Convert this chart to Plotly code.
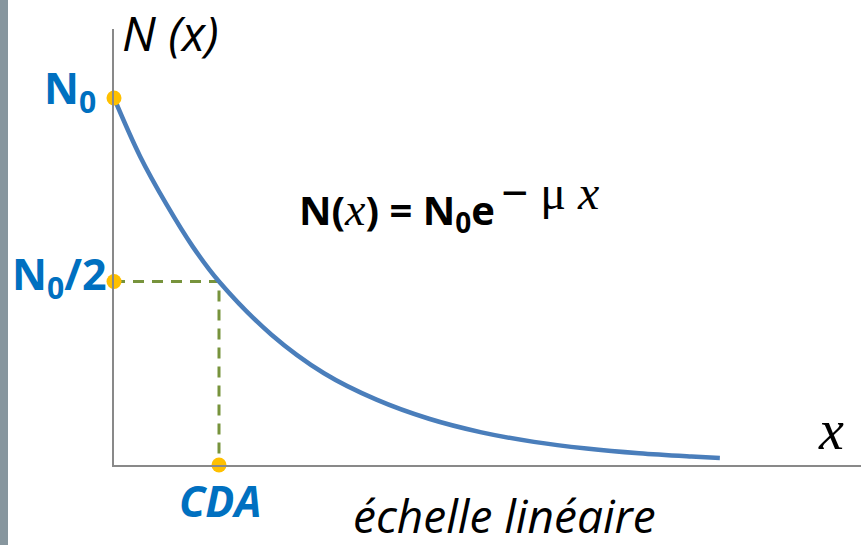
import plotly.graph_objects as go

# Decay curve read along the x axis (x in units of CDA, N in units of N0)
x_vals = [0, 0.25, 0.5, 0.75, 1.0, 1.5, 2.0, 2.5, 3.0, 3.5, 4.0, 4.5, 5.0, 5.5, 5.77]
n_vals = [1.0, 0.84, 0.71, 0.595, 0.5, 0.355, 0.25, 0.178, 0.126, 0.089, 0.063, 0.045, 0.032, 0.023, 0.019]

n0 = 1.0
half = 0.5
cda = 1.0

W, H = 861, 545
L, R, T, B = 114, 0, 29, 80
pw, ph = W - L - R, H - T - B

def px(xp):
    return (xp - L) / pw

def py(yp):
    return (H - B - yp) / ph

BLUE = "#0070C0"
CURVE = "#4A7EBB"
GOLD = "#FFC000"
OLIVE = "#77933C"
SERIF = "Liberation Serif"

fig = go.Figure()

fig.add_trace(go.Scatter(
    x=[0, cda, cda], y=[half, half, 0], mode="lines",
    line=dict(color=OLIVE, width=3, dash="11px,8px"), hoverinfo="skip"))

fig.add_trace(go.Scatter(
    x=x_vals, y=n_vals, mode="lines", line_shape="spline",
    line=dict(color=CURVE, width=4.5), hoverinfo="skip"))

fig.add_trace(go.Scatter(
    x=[0, 0, cda], y=[n0, half, 0], mode="markers", cliponaxis=False,
    marker=dict(color=GOLD, size=15), hoverinfo="skip"))

xmax = pw / 105.0
ymax = ph / 367.0

fig.update_xaxes(range=[0, xmax], showgrid=False, zeroline=False, showticklabels=False,
                 showline=True, linecolor="#898989", linewidth=2, ticks="")
fig.update_yaxes(range=[0, ymax], showgrid=False, zeroline=False, showticklabels=False,
                 showline=True, linecolor="#898989", linewidth=1.5, ticks="")

# Left grey border strip
fig.add_shape(type="rect", xref="paper", yref="paper",
              x0=px(0), x1=px(8), y0=py(H), y1=py(0),
              fillcolor="#87969E", line_width=0, layer="above")

eq_main = ("<b>N(</b><i><span style='font-family:Liberation Serif;font-size:46px'>x</span></i>"
           "<b>) = N<sub>0</sub>e</b>")
eq_exp = "<b>−</b> μ <i>x</i>"

ann = []
ann.append(dict(x=px(70), y=py(90), xref="paper", yref="paper", xanchor="center", yanchor="middle",
                text="<b>N<sub>0</sub></b>", font=dict(size=43, color=BLUE, family="Open Sans")))
ann.append(dict(x=px(59), y=py(276), xref="paper", yref="paper", xanchor="center", yanchor="middle",
                text="<b>N<sub>0</sub>/2</b>", font=dict(size=43, color=BLUE, family="Open Sans")))
ann.append(dict(x=px(220), y=py(500), xref="paper", yref="paper", xanchor="center", yanchor="middle",
                text="<b><i>CDA</i></b>", font=dict(size=43, color=BLUE, family="Open Sans")))
ann.append(dict(x=px(170), y=py(32), xref="paper", yref="paper", xanchor="center", yanchor="middle",
                text="<i>N</i> <i>(x)</i>", font=dict(size=48, color="black", family="Open Sans")))
ann.append(dict(x=px(497), y=py(211), xref="paper", yref="paper", xanchor="right", yanchor="middle",
                text=eq_main, font=dict(size=40, color="black", family="Open Sans")))
ann.append(dict(x=px(499), y=py(192), xref="paper", yref="paper", xanchor="left", yanchor="middle",
                text=eq_exp, font=dict(size=48, color="black", family=SERIF)))
ann.append(dict(x=px(831), y=py(430), xref="paper", yref="paper", xanchor="center", yanchor="middle",
                text="<i>x</i>", font=dict(size=56, color="black", family=SERIF)))
ann.append(dict(x=px(505), y=py(515), xref="paper", yref="paper", xanchor="center", yanchor="middle",
                text="<i>échelle linéaire</i>", font=dict(size=46, color="black", family="Open Sans")))
for a in ann:
    a["showarrow"] = False
fig.update_layout(annotations=ann)

fig.update_layout(width=W, height=H, margin=dict(l=L, r=R, t=T, b=B),
                  paper_bgcolor="white", plot_bgcolor="white", showlegend=False)

fig.write_html("out.html")
